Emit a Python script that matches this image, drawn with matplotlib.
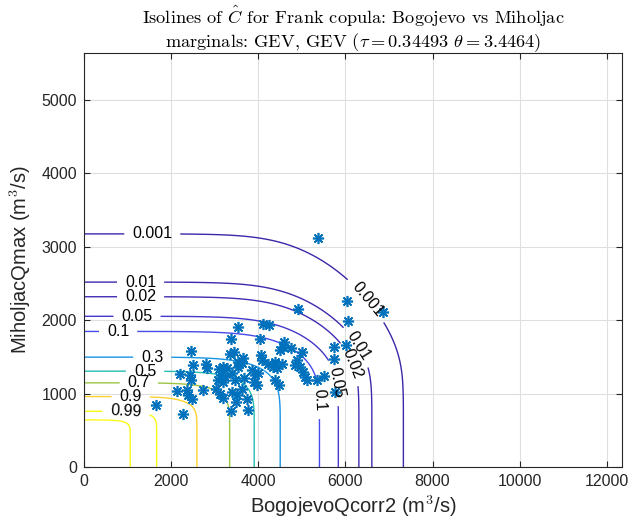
#!/usr/bin/env python3
"""
Isolines of the survival copula (Frank) for Bogojevo vs Miholjac peak flows,
GEV marginals, with the observed pairs on top.
"""

import numpy as np
import matplotlib
matplotlib.use('Agg')
import matplotlib.pyplot as plt
from matplotlib.colors import LinearSegmentedColormap

# Copula / marginal parameters
TAU = 0.34493
THETA = 3.4464
GEV_X = dict(k=-0.21, sigma=1040.0, mu=3540.0)    # BogojevoQcorr2
GEV_Y = dict(k=-0.002, sigma=288.0, mu=1200.0)    # MiholjacQmax

LEVELS = [0.001, 0.01, 0.02, 0.05, 0.1, 0.3, 0.5, 0.7, 0.9, 0.99, 0.999]
LABELED = LEVELS[:-1]

# Observed pairs (m3/s)
obs_x = [5383, 6864, 6038, 6061, 4913, 3524, 4109, 4247, 3375, 4040,
         4591, 4568, 4488, 4752, 4993, 6015, 5739, 5739, 2449, 3352,
         3450, 3542, 3657, 4057, 4093, 4231, 4385, 4539, 4883, 4844,
         4959, 2495, 2801, 2817, 2204, 2433, 2449, 3099, 3198, 3290,
         3138, 3237, 3083, 3198, 3391, 3467, 3616, 3542, 3850, 3926,
         4001, 4346, 4424, 5021, 5073, 5126, 5342, 5510, 5762, 3673,
         3903, 3965, 4385, 4483, 3620, 3735, 3772, 3478, 3375, 2142,
         2358, 2394, 2472, 2725, 3030, 3122, 3184, 3391, 3519, 1653,
         2266]
obs_y = [3126, 2110, 2264, 1991, 2157, 1905, 1946, 1932, 1737, 1737,
         1701, 1636, 1598, 1619, 1564, 1666, 1628, 1478, 1574, 1546,
         1568, 1432, 1486, 1523, 1455, 1410, 1432, 1410, 1455, 1387,
         1360, 1396, 1410, 1342, 1264, 1251, 1182, 1332, 1364, 1342,
         1251, 1227, 1182, 1159, 1274, 1182, 1414, 1360, 1319, 1251,
         1274, 1364, 1342, 1296, 1227, 1192, 1182, 1237, 1023, 1206,
         1159, 1114, 1192, 1114, 1069, 933, 783, 886, 766, 1032,
         1046, 978, 933, 1046, 1060, 1001, 946, 1023, 978, 841,
         719]

# where the contour labels sit, per level (approximate, snapped onto the line)
label_pos = {
    0.001: [(1560, 3173), (6490, 2273)],
    0.01: [(1300, 2523), (6175, 1600)],
    0.02: [(1290, 2328), (6031, 1380)],
    0.05: [(1220, 2055), (5723, 1137)],
    0.1: [(780, 1864), (5356, 910)],
    0.3: [(1560, 1500)],
    0.5: [(1400, 1305)],
    0.7: [(1260, 1145)],
    0.9: [(1080, 955)],
    0.99: [(960, 750)],
}

XMAX, YMAX = 12350, 5640

# parula-like colormap
parula = LinearSegmentedColormap.from_list('parula', [
    (0.00, (0.2422, 0.1504, 0.6603)),
    (0.10, (0.2780, 0.2970, 0.9300)),
    (0.20, (0.2000, 0.4500, 0.9900)),
    (0.30, (0.1000, 0.5800, 0.8900)),
    (0.40, (0.0600, 0.6700, 0.8300)),
    (0.50, (0.1400, 0.7400, 0.7000)),
    (0.60, (0.3500, 0.7900, 0.5000)),
    (0.70, (0.6000, 0.7700, 0.2700)),
    (0.80, (0.9300, 0.7300, 0.2300)),
    (0.90, (0.9900, 0.8200, 0.2000)),
    (1.00, (0.9769, 0.9839, 0.0805))])


def gev_cdf(x, k, sigma, mu):
    z = (x - mu) / sigma
    t = 1.0 + k * z
    with np.errstate(divide='ignore', invalid='ignore', over='ignore'):
        F = np.exp(-np.power(np.clip(t, 1e-300, None), -1.0 / k))
    if k < 0:
        F = np.where(t <= 0, 1.0, F)
    else:
        F = np.where(t <= 0, 0.0, F)
    return F


def frank(u, v, th):
    return -1.0 / th * np.log1p(np.expm1(-th * u) * np.expm1(-th * v) / np.expm1(-th))


# Survival probability P(X > x, Y > y)
gx = np.linspace(0, XMAX, 600)
gy = np.linspace(0, YMAX, 600)
X, Y = np.meshgrid(gx, gy)
U = gev_cdf(X, **GEV_X)
V = gev_cdf(Y, **GEV_Y)
S = 1.0 - U - V + frank(U, V, THETA)

plt.rcParams['font.family'] = ['Liberation Sans', 'DejaVu Sans']
plt.rcParams['mathtext.fontset'] = 'cm'

fig = plt.figure(figsize=(6.41, 5.23), dpi=100)
ax = fig.add_axes([84 / 641, 56 / 523, 538 / 641, 414 / 523])
ax.set_xlim(0, XMAX)
ax.set_ylim(0, YMAX)

cs = ax.contour(X, Y, S, levels=LEVELS, cmap=parula, vmin=LEVELS[0], vmax=LEVELS[-1],
                linewidths=1.0, zorder=2)

# snap each label position onto its own isoline (in screen space)
manual = []
for lev, pos in label_pos.items():
    segs = cs.allsegs[LEVELS.index(lev)]
    verts = np.vstack([s for s in segs if len(s)])
    vpix = ax.transData.transform(verts)
    for p in pos:
        ppix = ax.transData.transform(p)
        i = np.argmin(((vpix - ppix) ** 2).sum(axis=1))
        manual.append(tuple(verts[i]))

ax.clabel(cs, LABELED, manual=manual, inline=True, inline_spacing=8,
          fontsize=11.5, colors='k', fmt='%g')

ax.plot(obs_x, obs_y, linestyle='none', marker=(8, 2, 0), ms=8, mew=1.2,
        color='#0072BD', zorder=3)

ax.set_xticks(np.arange(0, 12001, 2000))
ax.set_yticks(np.arange(0, 5001, 1000))
ax.grid(True, color='#dfdfdf', linewidth=0.8, zorder=0)
ax.set_axisbelow(True)
ax.tick_params(direction='in', length=4, top=True, right=True, labelsize=11.5,
               colors='#262626', width=0.8, pad=5)
for s in ax.spines.values():
    s.set_color('#262626')
    s.set_linewidth(0.8)

ax.set_xlabel('BogojevoQcorr2 (m$^3$/s)', fontsize=14.5, color='#262626', labelpad=3)
ax.set_ylabel('MiholjacQmax (m$^3$/s)', fontsize=14.5, color='#262626', labelpad=6)
ax.set_title('Isolines of $\\hat{C}$ for Frank copula: Bogojevo vs Miholjac\n'
             'marginals: GEV, GEV ($\\tau = %s$ $\\theta = %s$)' % (TAU, THETA),
             fontsize=13.2, family='cmr10', pad=4, linespacing=1.15)

fig.savefig('out.png', dpi=100)
